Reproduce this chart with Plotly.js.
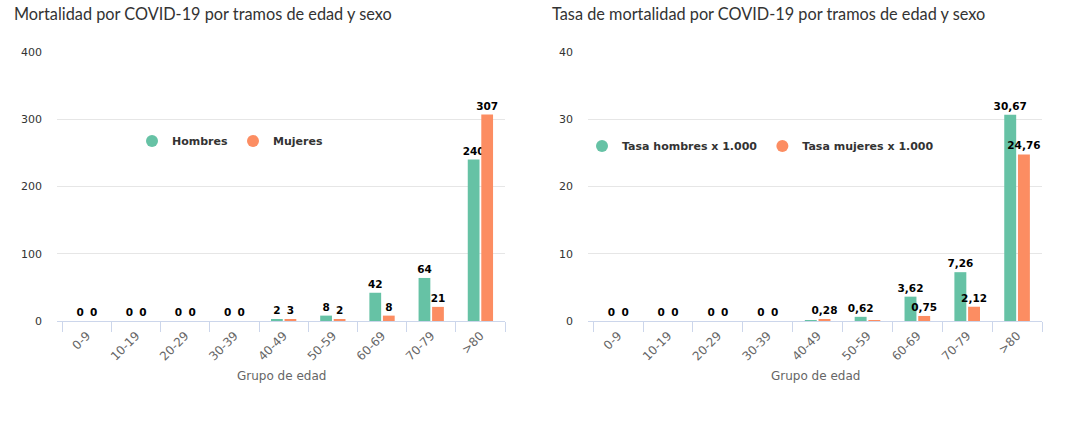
<!DOCTYPE html>
<html>
<head>
<meta charset="utf-8">
<script src="https://cdn.plot.ly/plotly-3.0.1.min.js"></script>
<style>html,body{margin:0;padding:0;background:#fff;}#chart{width:1070px;height:437px;}</style>
</head>
<body>
<div id="chart"></div>
<script>
// ---- Data ----
const ageGroups = ["0-9","10-19","20-29","30-39","40-49","50-59","60-69","70-79",">80"];
const deathsMen   = [0,0,0,0,2,8,42,64,240];
const deathsWomen = [0,0,0,0,3,2,8,21,307];
const rateMen     = [0,0,0,0,0.1,0.62,3.62,7.26,30.67];
const rateWomen   = [0,0,0,0,0.28,0.1,0.75,2.12,24.76];
const deathsMenLabels   = ["0","0","0","0","2","8","42","64","240"];
const deathsWomenLabels = ["0","0","0","0","3","2","8","21","307"];
const rateMenLabels     = ["0","0","0","0","","0,62","3,62","7,26","30,67"];
const rateWomenLabels   = ["0","0","0","0","0,28","","0,75","2,12","24,76"];

const titleLeft  = "Mortalidad por COVID-19 por tramos de edad y sexo";
const titleRight = "Tasa de mortalidad por COVID-19 por tramos de edad y sexo";
const xTitle = "Grupo de edad";
const namesLeft  = ["Hombres","Mujeres"];
const namesRight = ["Tasa hombres x 1.000","Tasa mujeres x 1.000"];

const GREEN = "#66c2a5", ORANGE = "#fc8d62";
const labelFont = {family:"DejaVu Sans, Verdana, sans-serif", size:10.5, color:"#000", weight:"bold"};

function barTrace(y, text, color, xa, ya, name, lg){
  return {type:"bar", x:ageGroups, y:y, text:text, textposition:"outside",
    textfont:labelFont, cliponaxis:false, constraintext:"none", textangle:0,
    marker:{color:color}, xaxis:xa, yaxis:ya, name:name, showlegend:false,
    legendgroup:lg, hoverinfo:"x+y"};
}
function legendTrace(color, xa, ya, name, lg, legend){
  return {type:"scatter", mode:"markers", x:[ageGroups[0]], y:[null],
    marker:{color:color, size:12, symbol:"circle"}, xaxis:xa, yaxis:ya,
    name:name, legendgroup:lg, showlegend:true, legend:legend};
}

const data = [
  barTrace(deathsMen, deathsMenLabels, GREEN, "x","y", namesLeft[0], "a"),
  barTrace(deathsWomen, deathsWomenLabels, ORANGE, "x","y", namesLeft[1], "b"),
  barTrace(rateMen, rateMenLabels, GREEN, "x2","y2", namesRight[0], "c"),
  barTrace(rateWomen, rateWomenLabels, ORANGE, "x2","y2", namesRight[1], "d"),
  legendTrace(GREEN, "x","y", namesLeft[0], "a", "legend"),
  legendTrace(ORANGE, "x","y", namesLeft[1], "b", "legend"),
  legendTrace(GREEN, "x2","y2", namesRight[0], "c", "legend2"),
  legendTrace(ORANGE, "x2","y2", namesRight[1], "d", "legend2")
];

const W = 1070, H = 437;
const yDom = [1-321/H, 1-52/H];
const tickFont = {family:"DejaVu Sans, Verdana, sans-serif", size:12, color:"#666"};
const yTickFont = {family:"DejaVu Sans, Verdana, sans-serif", size:11, color:"#333"};

function xaxis(dom, anchor){
  return {domain:dom, anchor:anchor, type:"category", tickangle:-45, tickfont:tickFont,
    showline:true, linecolor:"#ccd6eb", linewidth:1, ticks:"outside", tickson:"boundaries",
    ticklen:10, tickcolor:"#ccd6eb", showgrid:false, fixedrange:true, ticklabelstandoff:2};
}
function yaxis(range, dtick, anchor){
  return {domain:yDom, anchor:anchor, range:range, dtick:dtick, tickfont:yTickFont,
    showgrid:true, gridcolor:"#e6e6e6", zeroline:false, showline:false, ticks:"",
    ticklabelstandoff:14, fixedrange:true};
}
const legendFont = {family:"DejaVu Sans, Verdana, sans-serif", size:11, color:"#333", weight:"bold"};

const layout = {
  width:W, height:H, autosize:false,
  margin:{l:0,r:0,t:0,b:0},
  paper_bgcolor:"#fff", plot_bgcolor:"#fff",
  barmode:"group", bargap:0.45, bargroupgap:0.13,
  separators:",.",
  font:{family:"DejaVu Sans, sans-serif"},
  xaxis: xaxis([57/W, 505/W], "y"),
  yaxis: yaxis([0,400], 100, "x"),
  xaxis2: xaxis([588/W, 1042/W], "y2"),
  yaxis2: yaxis([0,40], 10, "x2"),
  legend:{orientation:"h", x:132/W, y:1-141/H, xanchor:"left", yanchor:"middle",
    font:legendFont, bgcolor:"rgba(0,0,0,0)", itemclick:false, itemdoubleclick:false},
  legend2:{orientation:"h", x:582/W, y:1-146/H, xanchor:"left", yanchor:"middle",
    font:legendFont, bgcolor:"rgba(0,0,0,0)", itemclick:false, itemdoubleclick:false},
  annotations:[
    {text:titleLeft, xref:"paper", yref:"paper", x:12/W, y:1-13/H, xanchor:"left", yanchor:"middle",
     showarrow:false, font:{family:"Lato, sans-serif", size:16.3, color:"#333"}},
    {text:titleRight, xref:"paper", yref:"paper", x:550/W, y:1-13/H, xanchor:"left", yanchor:"middle",
     showarrow:false, font:{family:"Lato, sans-serif", size:16.3, color:"#333"}},
    {text:xTitle, xref:"paper", yref:"paper", x:(57+505)/2/W, y:1-376/H, xanchor:"center", yanchor:"middle",
     showarrow:false, font:{family:"DejaVu Sans, Verdana, sans-serif", size:12, color:"#666"}},
    {text:xTitle, xref:"paper", yref:"paper", x:(588+1042)/2/W, y:1-376/H, xanchor:"center", yanchor:"middle",
     showarrow:false, font:{family:"DejaVu Sans, Verdana, sans-serif", size:12, color:"#666"}}
  ]
};

Plotly.newPlot("chart", data, layout, {displayModeBar:false});
</script>
</body>
</html>
